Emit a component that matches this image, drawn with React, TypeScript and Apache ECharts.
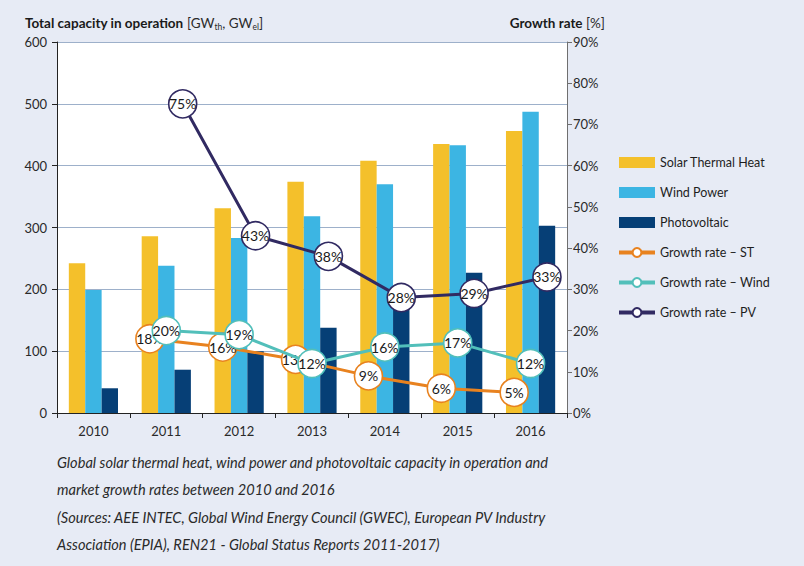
import React, { useEffect, useRef } from "react";
import * as echarts from "echarts";

const years = ["2010", "2011", "2012", "2013", "2014", "2015", "2016"];
const solarThermal = [242, 286, 331, 374, 408, 435, 456];
const windPower = [199, 238, 283, 318, 370, 433, 487];
const photovoltaic = [40, 70, 100, 138, 177, 227, 303];
// growth rates (%), null for 2010
const growthST = [null, 18, 16, 13, 9, 6, 5];
const growthWind = [null, 20, 19, 12, 16, 17, 12];
const growthPV = [null, 75, 43, 38, 28, 29, 33];

const captionLines = [
  "Global solar thermal heat, wind power and photovoltaic capacity in operation and",
  "market growth rates between 2010 and 2016",
  "(Sources: AEE INTEC, Global Wind Energy Council (GWEC), European PV Industry",
  "Association (EPIA), REN21 - Global Status Reports 2011-2017)",
];

const C_ST = "#f4c02b";
const C_WIND = "#3cb5e3";
const C_PV = "#063f76";
const L_ST = "#e8821f";
const L_WIND = "#52bfba";
const L_PV = "#312a62";

const FONT = "Lato";
const GRID_L = 57;
const GRID_R = 237;
const W = 804;
const H = 566;
const BAR_W = 16.4;

export default function App() {
  const ref = useRef<HTMLDivElement>(null);
  useEffect(() => {
    if (!ref.current) return;
    const chart = echarts.init(ref.current, undefined, { renderer: "svg" });
    const catW = (W - GRID_L - GRID_R) / years.length;
    const off = BAR_W / catW;
    const toPts = (arr: (number | null)[], shift: number) =>
      arr
        .map((v, i) => (v == null ? null : [i + 0.5 + shift, v]))
        .filter((p) => p !== null);

    const lineSeries = (name: string, color: string, arr: (number | null)[], shift: number, z: number) => ({
      name,
      type: "line",
      xAxisIndex: 1,
      yAxisIndex: 1,
      data: toPts(arr, shift),
      z,
      symbol: "circle",
      symbolSize: 28,
      lineStyle: { color, width: 3 },
      itemStyle: { color: "#ffffff", borderColor: color, borderWidth: 1.6 },
      label: {
        show: true,
        position: "inside",
        formatter: (p: any) => p.value[1] + "%",
        color: "#1a1a1a",
        fontFamily: FONT,
        fontSize: 14,
      },
    });

    const option: any = {
      animation: false,
      backgroundColor: "#e7ebf5",
      textStyle: { fontFamily: FONT },
      grid: {
        left: GRID_L,
        right: GRID_R,
        top: 42,
        bottom: 153,
        show: true,
        backgroundColor: "#ffffff",
        borderWidth: 0,
      },
      legend: {
        orient: "vertical",
        left: 612,
        top: 151,
        itemWidth: 36,
        itemHeight: 11,
        itemGap: 17,
        lineStyle: { width: 4 },
        textStyle: { fontFamily: FONT, fontSize: 12.5, color: "#1e1e1e" },
        data: [
          { name: "Solar Thermal Heat", icon: "rect" },
          { name: "Wind Power", icon: "rect" },
          { name: "Photovoltaic", icon: "rect" },
          { name: "Growth rate – ST" },
          { name: "Growth rate – Wind" },
          { name: "Growth rate – PV" },
        ],
      },
      xAxis: [
        {
          type: "category",
          data: years,
          axisLine: { lineStyle: { color: "#222", width: 1 } },
          axisTick: { show: true, length: 5, lineStyle: { color: "#222" } },
          axisLabel: { color: "#2a2a2a", fontFamily: FONT, fontSize: 13, margin: 11 },
        },
        { type: "value", min: 0, max: years.length, show: false },
      ],
      yAxis: [
        {
          type: "value",
          min: 0,
          max: 600,
          interval: 100,
          axisLine: { show: true, lineStyle: { color: "#222", width: 1 } },
          axisTick: { show: true, length: 5, lineStyle: { color: "#222" } },
          axisLabel: { color: "#2a2a2a", fontFamily: FONT, fontSize: 13, margin: 10 },
          splitLine: { show: true, lineStyle: { color: "#9db0ca", width: 1 } },
        },
        {
          type: "value",
          min: 0,
          max: 90,
          interval: 10,
          position: "right",
          axisLine: { show: true, lineStyle: { color: "#6f6f6f", width: 1 } },
          axisTick: { show: true, length: 5, lineStyle: { color: "#6f6f6f" } },
          axisLabel: { color: "#2a2a2a", fontFamily: FONT, fontSize: 13, margin: 6, formatter: "{value}%" },
          splitLine: { show: false },
        },
      ],
      series: [
        { name: "Solar Thermal Heat", type: "bar", data: solarThermal, barWidth: BAR_W, barGap: "0%", itemStyle: { color: C_ST } },
        { name: "Wind Power", type: "bar", data: windPower, barWidth: BAR_W, barGap: "0%", itemStyle: { color: C_WIND } },
        { name: "Photovoltaic", type: "bar", data: photovoltaic, barWidth: BAR_W, barGap: "0%", itemStyle: { color: C_PV } },
        lineSeries("Growth rate – ST", L_ST, growthST, -off, 3),
        lineSeries("Growth rate – Wind", L_WIND, growthWind, 0, 4),
        lineSeries("Growth rate – PV", L_PV, growthPV, off, 5),
      ],
      graphic: [
        {
          type: "text",
          left: 25,
          top: 16,
          style: {
            text: "{b|Total capacity in operation} {n|[GW}{s|th}{n|, GW}{s|el}{n|]}",
            rich: {
              b: { fontFamily: FONT, fontWeight: "bold", fontSize: 13.5, fill: "#1a1a1a", lineHeight: 16 },
              n: { fontFamily: FONT, fontSize: 13.5, fill: "#2a2a2a", lineHeight: 16 },
              s: { fontFamily: FONT, fontSize: 8.5, fill: "#2a2a2a", lineHeight: 16, verticalAlign: "bottom", padding: [6, 0, 0, 0] },
            },
          },
        },
        {
          type: "text",
          right: 804 - 605,
          top: 16,
          style: {
            text: "{b|Growth rate} {n|[%]}",
            rich: {
              b: { fontFamily: FONT, fontWeight: "bold", fontSize: 13.5, fill: "#1a1a1a", lineHeight: 16 },
              n: { fontFamily: FONT, fontSize: 13.5, fill: "#2a2a2a", lineHeight: 16 },
            },
          },
        },
        {
          type: "text",
          left: 57,
          top: 449,
          style: {
            text: captionLines.join("\n"),
            fontFamily: FONT,
            fontStyle: "italic",
            fontSize: 14.6,
            lineHeight: 27.3,
            fill: "#2a2a2a",
          },
        },
      ],
    };
    chart.setOption(option);
    return () => chart.dispose();
  }, []);
  return (
    <div
      ref={ref}
      style={{ position: "fixed", left: 0, top: 0, width: W, height: H }}
    />
  );
}
